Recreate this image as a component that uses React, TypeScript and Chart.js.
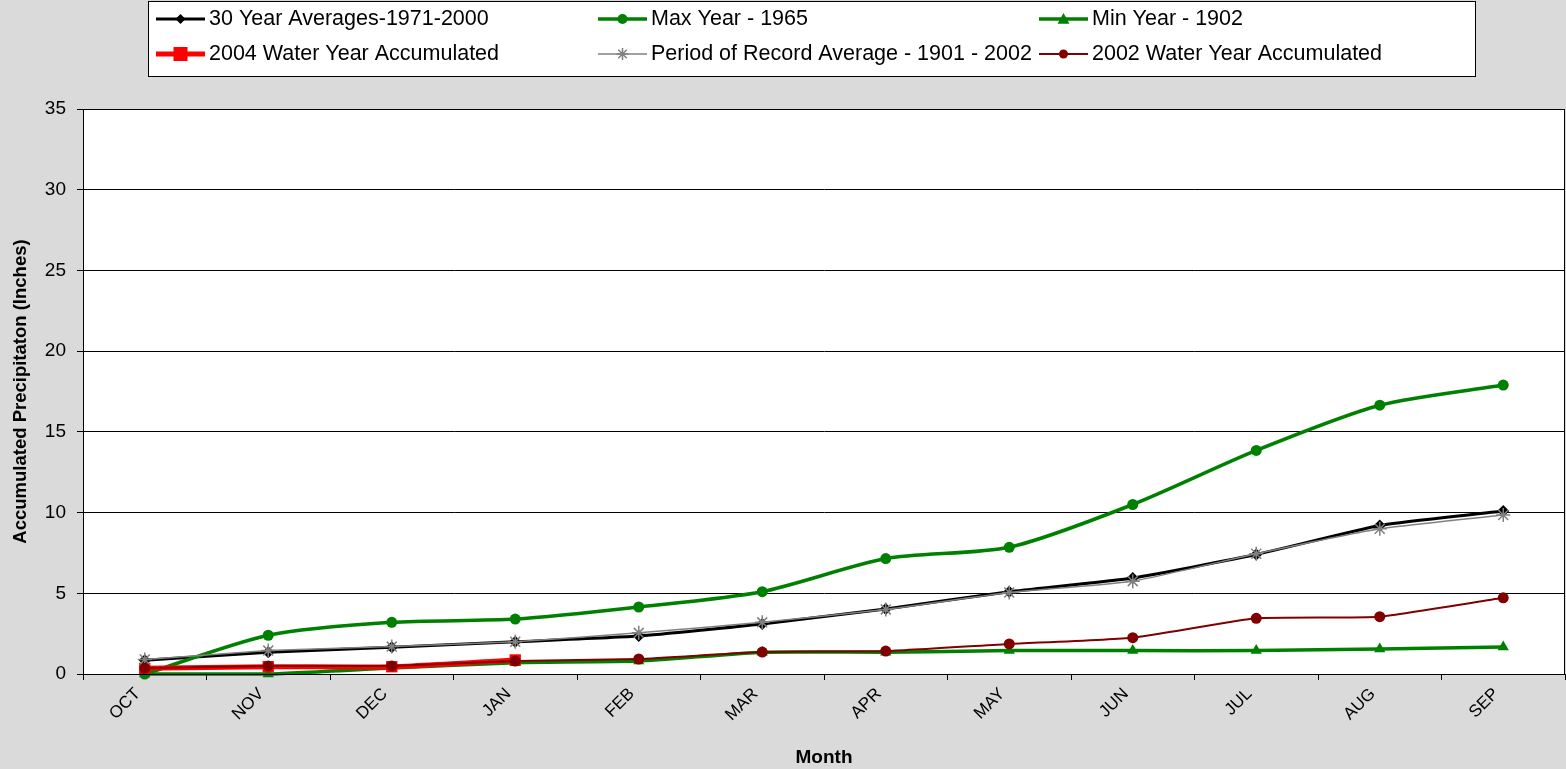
import React, { useEffect, useRef } from "react";
import { Chart, registerables } from "chart.js";

Chart.register(...registerables);

const months = ["OCT", "NOV", "DEC", "JAN", "FEB", "MAR", "APR", "MAY", "JUN", "JUL", "AUG", "SEP"];
const yTicks = [0, 5, 10, 15, 20, 25, 30, 35];

const avg30 = [0.85, 1.35, 1.65, 2.0, 2.35, 3.1, 4.03, 5.1, 5.95, 7.4, 9.2, 10.1];
const maxYear = [0.0, 2.4, 3.2, 3.4, 4.15, 5.1, 7.15, 7.85, 10.5, 13.85, 16.65, 17.9];
const minYear = [0.0, 0.0, 0.37, 0.7, 0.8, 1.35, 1.35, 1.45, 1.45, 1.45, 1.55, 1.67];
const wy2004 = [0.35, 0.45, 0.45, 0.87];
const porAvg = [0.9, 1.45, 1.7, 2.0, 2.55, 3.2, 4.0, 5.05, 5.75, 7.45, 9.0, 9.85];
const wy2002 = [0.35, 0.5, 0.5, 0.8, 0.93, 1.36, 1.42, 1.86, 2.25, 3.45, 3.55, 4.72];

const labels = [
  "30 Year Averages-1971-2000",
  "Max Year - 1965",
  "Min Year - 1902",
  "2004 Water Year Accumulated",
  "Period of Record Average - 1901 - 2002",
  "2002 Water Year Accumulated",
];

const FONT = "'Liberation Sans', Arial, sans-serif";

const bgPlugin = {
  id: "bgPlugin",
  beforeDraw(chart: any) {
    const { ctx, chartArea } = chart;
    ctx.save();
    ctx.fillStyle = "#dadada";
    ctx.fillRect(0, 0, chart.width, chart.height);
    ctx.fillStyle = "#ffffff";
    ctx.fillRect(chartArea.left, chartArea.top, chartArea.right - chartArea.left, chartArea.bottom - chartArea.top);
    ctx.restore();
  },
  afterDatasetsDraw(chart: any) {
    const { ctx, chartArea } = chart;
    ctx.save();
    ctx.strokeStyle = "#000";
    ctx.lineWidth = 1;
    ctx.strokeRect(chartArea.left + 0.5, chartArea.top + 0.5, chartArea.right - chartArea.left - 1, chartArea.bottom - chartArea.top);
    ctx.restore();
  },
};

function drawMarker(ctx: CanvasRenderingContext2D, style: string, x: number, y: number, r: number, color: string) {
  ctx.save();
  ctx.fillStyle = color;
  ctx.strokeStyle = color;
  ctx.beginPath();
  if (style === "circle") {
    ctx.arc(x, y, r, 0, Math.PI * 2);
    ctx.fill();
  } else if (style === "rectRot") {
    ctx.moveTo(x, y - r);
    ctx.lineTo(x + r, y);
    ctx.lineTo(x, y + r);
    ctx.lineTo(x - r, y);
    ctx.closePath();
    ctx.fill();
  } else if (style === "triangle") {
    ctx.moveTo(x, y - r);
    ctx.lineTo(x + r, y + r * 0.8);
    ctx.lineTo(x - r, y + r * 0.8);
    ctx.closePath();
    ctx.fill();
  } else if (style === "rect") {
    ctx.fillRect(x - r, y - r, 2 * r, 2 * r);
  } else if (style === "star") {
    ctx.lineWidth = 1.5;
    for (let i = 0; i < 4; i++) {
      const a = (i * Math.PI) / 4;
      ctx.moveTo(x - r * Math.cos(a), y - r * Math.sin(a));
      ctx.lineTo(x + r * Math.cos(a), y + r * Math.sin(a));
    }
    ctx.stroke();
  }
  ctx.restore();
}

const legendPlugin = {
  id: "customLegend",
  afterDraw(chart: any) {
    const { ctx } = chart;
    const boxL = 148, boxT = 1, boxR = 1475, boxB = 76;
    ctx.save();
    ctx.fillStyle = "#fff";
    ctx.fillRect(boxL, boxT, boxR - boxL, boxB - boxT);
    ctx.strokeStyle = "#000";
    ctx.lineWidth = 1;
    ctx.strokeRect(boxL + 0.5, boxT + 0.5, boxR - boxL, boxB - boxT);
    const cols = [156, 598, 1039];
    const rows = [19, 54];
    const ds = chart.data.datasets;
    ds.forEach((d: any, i: number) => {
      const c = i % 3;
      const r = Math.floor(i / 3);
      const x0 = cols[c];
      const y = rows[r];
      const x1 = x0 + 49;
      ctx.strokeStyle = d.borderColor;
      ctx.lineWidth = d.borderWidth;
      ctx.beginPath();
      ctx.moveTo(x0, y);
      ctx.lineTo(x1, y);
      ctx.stroke();
      drawMarker(ctx, d.pointStyle, (x0 + x1) / 2, y, d.legendRadius, d.pointBackgroundColor);
      ctx.fillStyle = "#000";
      ctx.font = "21.5px " + FONT;
      ctx.textAlign = "left";
      ctx.textBaseline = "middle";
      ctx.fillText(d.label, x1 + 4, y);
    });
    ctx.restore();
  },
};

export default function App() {
  const ref = useRef<HTMLCanvasElement | null>(null);
  useEffect(() => {
    const canvas = ref.current!;
    const mk = (i: number, data: number[], color: string, width: number, style: string, radius: number, legendRadius: number, order: number) => ({
      label: labels[i],
      data,
      borderColor: color,
      backgroundColor: color,
      pointBackgroundColor: color,
      pointBorderColor: color,
      borderWidth: width,
      pointStyle: style,
      pointRadius: radius,
      pointBorderWidth: style === "star" ? 1.5 : 0,
      tension: i === 1 ? 0.25 : 0.15,
      order,
      legendRadius,
      clip: 10,
    });
    const chart = new Chart(canvas, {
      type: "line",
      data: {
        labels: months,
        datasets: [
          mk(0, avg30, "#000000", 3, "rectRot", 6, 5, 6),
          mk(1, maxYear, "#008000", 3.5, "circle", 5.5, 5, 5),
          mk(2, minYear, "#008000", 3.5, "triangle", 6.5, 6, 4),
          mk(3, wy2004, "#ff0000", 5, "rect", 8, 7, 3),
          mk(4, porAvg, "#808080", 1.5, "star", 7, 6, 2),
          mk(5, wy2002, "#800000", 2, "circle", 5.5, 4.5, 1),
        ] as any,
      },
      options: {
        animation: false,
        responsive: false,
        devicePixelRatio: 1,
        layout: { autoPadding: false, padding: { top: 109, right: 1, left: 0, bottom: 0 } },
        plugins: { legend: { display: false }, tooltip: { enabled: false }, title: { display: false } },
        scales: {
          x: {
            type: "category",
            offset: true,
            grid: { display: true, drawOnChartArea: false, drawTicks: true, tickLength: 6, color: "#000", offset: true },
            border: { display: true, color: "#000" },
            ticks: { minRotation: 45, maxRotation: 45, autoSkip: false, color: "#000", font: { family: FONT, size: 17 }, padding: 4, labelOffset: -7 },
            title: { display: true, text: "Month", color: "#000", font: { family: FONT, size: 19, weight: "bold" }, padding: { top: 0, bottom: 0 } },
            afterFit: (s: any) => { s.height = 95; s.paddingLeft = 0; s.paddingRight = 0; },
          },
          y: {
            min: 0,
            max: 35,
            afterBuildTicks: (s: any) => { s.ticks = yTicks.map((v) => ({ value: v })); },
            grid: { color: "#000", lineWidth: 1, tickLength: 6, drawTicks: true },
            border: { display: true, color: "#000" },
            ticks: { color: "#000", font: { family: FONT, size: 19 }, padding: 11 },
            title: { display: true, text: "Accumulated Precipitaton (Inches)", color: "#000", font: { family: FONT, size: 18.5, weight: "bold" }, padding: { top: 10, bottom: 0 } },
            afterFit: (s: any) => { s.width = 83; },
          },
        },
      } as any,
      plugins: [bgPlugin, legendPlugin],
    });
    return () => chart.destroy();
  }, []);
  return (
    <div style={{ position: "absolute", left: 0, top: 0, width: 1566, height: 769 }}>
      <canvas ref={ref} width={1566} height={769} style={{ display: "block" }} />
    </div>
  );
}
